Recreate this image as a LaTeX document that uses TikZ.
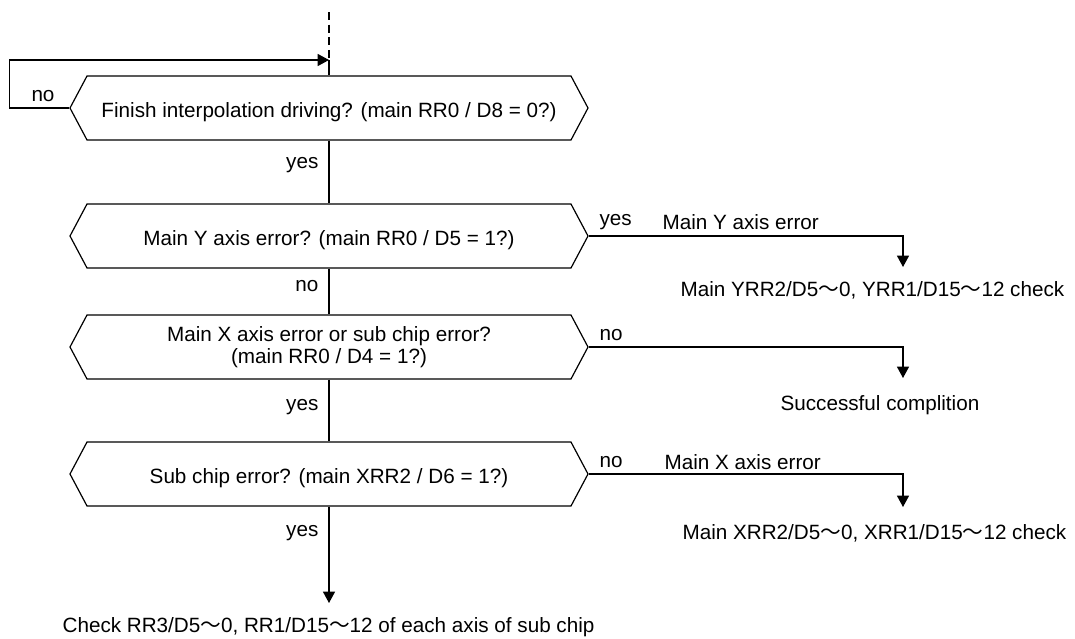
\documentclass[tikz,border=0pt]{standalone}
\usepackage{fontspec}
\setmainfont{Liberation Sans}
\newfontfamily\cjk{Noto Sans CJK JP}
\usetikzlibrary{arrows.meta,shapes.symbols}
\definecolor{ink}{HTML}{000000}
\tikzset{
  hexa/.style={shape=signal,signal to=west and east,signal pointer angle=124,draw=ink,line width=0.9pt,minimum width=388.5pt,minimum height=48pt,inner sep=2pt,align=center,font=\fontsize{15.5pt}{16.5pt}\selectfont,text=ink},
  lowtxt/.style={text height=1.5em,text depth=0.1em},
  wire/.style={line width=0.9pt,ink},
  flow/.style={-{Triangle[length=8.5pt,width=9pt]},line width=0.9pt,ink},
  lab/.style={font=\fontsize{15.5pt}{16.5pt}\selectfont,inner sep=1pt,text=ink}
}
\newcommand{\wavy}{{\cjk ～}}

\begin{document}
\begin{tikzpicture}[x=0.75pt,y=-0.75pt]
\useasboundingbox (0,0) rectangle (1075,639);
% ===================== decisions =====================
\node[hexa,lowtxt] (finish) at (329,108) {Finish interpolation driving? (main RR0 / D8 = 0?)};
\node[hexa,lowtxt] (yerr)   at (329,236) {Main Y axis error? (main RR0 / D5 = 1?)};
\node[hexa]        (xerr)   at (329,347) {Main X axis error or sub chip error?\\(main RR0 / D4 = 1?)};
\node[hexa,lowtxt] (suberr) at (329,474) {Sub chip error? (main XRR2 / D6 = 1?)};
% ===================== entry and wait loop =====================
\coordinate (top) at (329,12);
\coordinate (entry) at (329,60);
\draw[wire,dash pattern=on 6pt off 3.5pt] (top) -- (entry);
\draw[wire] (entry) -- (finish.north);
\draw[flow] (finish.west) -- ++(-60,0) |- (entry);
\node[lab] (lnofin) at (43,96) {no};
% ===================== main column =====================
\draw[wire] (finish.south) -- (yerr.north);
\node[lab,anchor=east] (lyes1) at (320,165) {yes};
\draw[wire] (yerr.south) -- (xerr.north);
\node[lab,anchor=east] (lno2) at (320,286) {no};
\draw[wire] (xerr.south) -- (suberr.north);
\node[lab,anchor=east] (lyes3) at (320,407) {yes};
\coordinate (subtip) at (329,603);
\draw[flow] (suberr.south) -- (subtip);
\node[lab,anchor=east] (lyes4) at (320,533) {yes};
\node[lab,anchor=west] (subchk) at (61,627) {Check RR3/D5\wavy 0, RR1/D15\wavy 12 of each axis of sub chip};
% ===================== right branches =====================
\coordinate (ytip) at (903,267);
\draw[flow] (yerr.east) -| (ytip);
\node[lab,anchor=west] (lyes2) at (598,222) {yes};
\node[lab,anchor=west] (lyname) at (661,222) {Main Y axis error};
\node[lab,anchor=west] (ychk) at (679,290) {Main YRR2/D5\wavy 0, YRR1/D15\wavy 12 check};
\coordinate (oktip) at (903,378);
\draw[flow] (xerr.east) -| (oktip);
\node[lab,anchor=west] (lno3) at (598,335) {no};
\node[lab,anchor=west] (okres) at (779,405) {Successful complition};
\coordinate (xtip) at (903,507);
\draw[flow] (suberr.east) -| (xtip);
\node[lab,anchor=west] (lno4) at (598,462) {no};
\node[lab,anchor=west] (lxname) at (663,462) {Main X axis error};
\node[lab,anchor=west] (xchk) at (681,533) {Main XRR2/D5\wavy 0, XRR1/D15\wavy 12 check};
\end{tikzpicture}
\end{document}
